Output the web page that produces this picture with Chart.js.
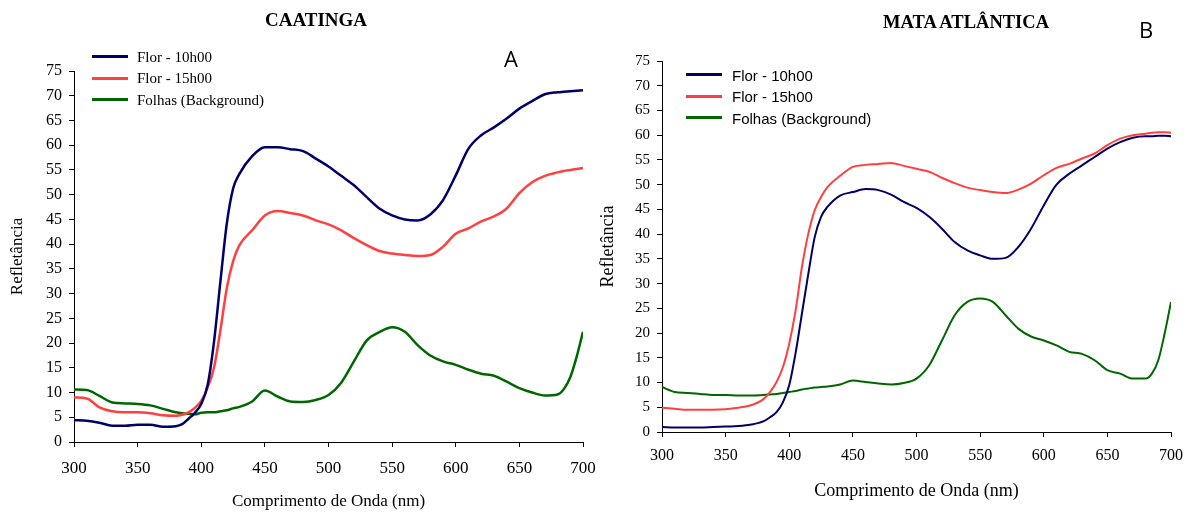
<!DOCTYPE html>
<html>
<head>
<meta charset="utf-8">
<script src="https://cdn.jsdelivr.net/npm/chart.js@4.4.1/dist/chart.umd.min.js"></script>
<style>
  html, body { margin: 0; padding: 0; background: #fff; }
  #page { position: relative; width: 1192px; height: 512px; overflow: hidden; }
  .box { position: absolute; top: 0; height: 512px; }
  .lbl { position: absolute; transform: translate(-50%, -50%); white-space: nowrap; color: #000; }
  .title { font-family: "Liberation Serif", serif; font-weight: bold; }
  .letter { font: 22px "Open Sans", "Liberation Sans", sans-serif; }
  .legend { position: absolute; }
  .legend .row { position: relative; height: 21.5px; }
  .legend .mark { position: absolute; left: 0; top: 50%; width: 36px; height: 3px; margin-top: -1.5px; }
  .legend .txt { position: absolute; top: 50%; transform: translateY(-50%); white-space: nowrap; color: #000; }
</style>
</head>
<body>
<div id="page">
  <div class="box" style="left:0; width:610px"><canvas id="chartA" width="610" height="512"></canvas></div>
  <div class="box" style="left:596px; width:596px"><canvas id="chartB" width="596" height="512"></canvas></div>

  <div class="lbl title" style="left:316px; top:20px; font-size:19px">CAATINGA</div>
  <div class="lbl title" style="left:966px; top:22px; font-size:18.5px">MATA ATLÂNTICA</div>
  <div class="lbl letter" style="left:511px; top:58px">A</div>
  <div class="lbl letter" style="left:1146px; top:29px">B</div>

  <div class="legend" id="legendA" style="left:92px; top:46px; font: 15px 'Liberation Serif', serif"></div>
  <div class="legend" id="legendB" style="left:686px; top:64px; font: 15px 'Liberation Sans', Arial, sans-serif"></div>
</div>

<script>
// wavelengths (nm), shared by every series
const waves = [300, 310, 320, 330, 340, 350, 360, 370, 380, 385, 390, 395, 400, 405, 410, 415, 420, 425, 430,
  440, 450, 460, 470, 480, 490, 500, 510, 520, 530, 540, 550, 560, 570, 580, 590, 600, 610, 620, 630, 640,
  650, 660, 670, 680, 685, 690, 695, 700];

const seriesLabels = ['Flor - 10h00', 'Flor - 15h00', 'Folhas (Background)'];
const seriesColors = ['#000066', '#ff4040', '#006600'];

// Caatinga
const caatFlor10 = [4.4, 4.3, 3.9, 3.3, 3.3, 3.5, 3.5, 3.1, 3.2, 3.6, 4.7, 5.9, 7.7, 11.5, 20.2, 32.3, 44, 51.2, 54.2,
  57.8, 59.6, 59.6, 59.2, 58.8, 57.3, 55.7, 53.8, 51.9, 49.5, 47.2, 45.8, 45.0, 44.8, 46.0, 48.9, 53.9, 59.3, 62, 63.6, 65.4,
  67.4, 68.9, 70.3, 70.7, 70.8, 70.9, 71.0, 71.1];
const caatFlor15 = [9.0, 8.8, 7.0, 6.2, 6.0, 6.0, 5.8, 5.4, 5.3, 5.5, 6.0, 6.9, 8.3, 11, 15, 22.5, 31, 36.5, 39.8,
  42.8, 45.8, 46.7, 46.3, 45.8, 44.8, 44.0, 42.8, 41.2, 39.8, 38.6, 38.1, 37.8, 37.6, 37.8, 39.5, 42.1, 43.2, 44.6, 45.6, 47.2,
  50.3, 52.5, 53.8, 54.5, 54.8, 55.0, 55.2, 55.4];
const caatFolhas = [10.6, 10.5, 9.3, 8.0, 7.8, 7.7, 7.4, 6.7, 6.0, 5.8, 5.7, 5.6, 5.9, 6.0, 6.0, 6.2, 6.4, 6.8, 7.1,
  8.2, 10.4, 9.2, 8.2, 8.1, 8.5, 9.5, 12.0, 16.3, 20.5, 22.2, 23.2, 22.3, 19.6, 17.5, 16.3, 15.6, 14.6, 13.8, 13.4, 12.2,
  10.9, 10.0, 9.4, 9.6, 10.7, 13.1, 17.2, 22.3];

// Mata Atlantica
const mataFlor10 = [1.0, 0.9, 0.9, 0.9, 1.0, 1.1, 1.2, 1.5, 2.2, 3.0, 4.0, 6.0, 9.5, 16, 24, 32, 39.4, 43.5, 45.5,
  47.8, 48.5, 49.1, 48.9, 48.0, 46.5, 45.3, 43.5, 41.1, 38.4, 36.7, 35.7, 35.0, 35.2, 37.4, 41.1, 45.8, 50.0, 52.2, 53.9, 55.6,
  57.3, 58.6, 59.5, 59.8, 59.8, 59.9, 59.9, 59.8];
const mataFlor15 = [4.9, 4.7, 4.5, 4.5, 4.5, 4.6, 4.9, 5.4, 6.7, 8.1, 10.1, 13.1, 17.9, 24.6, 33.4, 40.1, 44.8, 47.5, 49.5,
  51.8, 53.6, 54.0, 54.2, 54.4, 53.8, 53.2, 52.6, 51.4, 50.3, 49.4, 48.9, 48.5, 48.3, 49.0, 50.2, 51.9, 53.4, 54.2, 55.3, 56.3,
  58.0, 59.3, 60.0, 60.3, 60.5, 60.6, 60.6, 60.5];
const mataFolhas = [9.1, 8.1, 7.9, 7.7, 7.5, 7.5, 7.4, 7.4, 7.5, 7.6, 7.7, 7.9, 8.1, 8.3, 8.6, 8.8, 9.0, 9.1, 9.2,
  9.6, 10.4, 10.1, 9.8, 9.6, 9.9, 10.8, 13.5, 18.5, 23.6, 26.3, 27.0, 26.3, 23.6, 20.9, 19.3, 18.5, 17.5, 16.2, 15.8, 14.5,
  12.5, 11.8, 10.8, 10.8, 11.8, 14.5, 19.9, 26.3];

const xTicks = [300, 350, 400, 450, 500, 550, 600, 650, 700];
const yTicks = [0, 5, 10, 15, 20, 25, 30, 35, 40, 45, 50, 55, 60, 65, 70, 75];

function toPoints(vals) {
  return waves.map((w, i) => ({ x: w, y: vals[i] }));
}

function buildLegend(id, textLeft) {
  const el = document.getElementById(id);
  el.innerHTML = seriesLabels.map((l, i) =>
    `<div class="row"><span class="mark" style="background:${seriesColors[i]}"></span><span class="txt" style="left:${textLeft}px">${l}</span></div>`
  ).join('');
}

function makeChart(canvasId, series, cfg) {
  const ctx = document.getElementById(canvasId).getContext('2d');
  const titleFont = { family: 'Liberation Serif', size: cfg.titleSize };
  return new Chart(ctx, {
    type: 'line',
    data: {
      datasets: series.map((vals, i) => ({
        label: seriesLabels[i],
        data: toPoints(vals),
        borderColor: seriesColors[i],
        borderWidth: cfg.lineWidth,
        pointRadius: 0,
        fill: false,
        cubicInterpolationMode: 'monotone'
      }))
    },
    options: {
      responsive: false,
      animation: false,
      layout: { padding: cfg.padding },
      plugins: { legend: { display: false }, tooltip: { enabled: false } },
      scales: {
        x: {
          type: 'linear', min: 300, max: 700,
          afterBuildTicks: s => { s.ticks = xTicks.map(v => ({ value: v })); },
          afterFit: s => { s.height = cfg.xHeight; },
          grid: { drawOnChartArea: false, drawTicks: true, tickLength: 5, color: '#000' },
          border: { color: '#000', width: 1 },
          ticks: { color: '#000', font: { family: 'Liberation Serif', size: cfg.xTickSize }, padding: cfg.xTickPad, maxRotation: 0, autoSkip: false },
          title: { display: true, text: 'Comprimento de Onda (nm)', color: '#000', font: titleFont, padding: { top: 0, bottom: cfg.xTitlePad } }
        },
        y: {
          min: 0, max: 75,
          afterBuildTicks: s => { s.ticks = yTicks.map(v => ({ value: v })); },
          afterFit: s => { s.width = cfg.yWidth; },
          grid: { drawOnChartArea: false, drawTicks: true, tickLength: 5, color: '#000' },
          border: { color: '#000', width: 1 },
          ticks: { color: '#000', font: { family: 'Liberation Serif', size: cfg.yTickSize }, padding: 7, autoSkip: false },
          title: { display: true, text: 'Refletância', color: '#000', font: titleFont, padding: { top: cfg.yTitlePad, bottom: 0 } }
        }
      }
    }
  });
}

buildLegend('legendA', 45);
buildLegend('legendB', 46);

makeChart('chartA', [caatFlor10, caatFlor15, caatFolhas], {
  padding: { left: 0, right: 27, top: 71, bottom: 0 },
  yWidth: 74, xHeight: 70, xTickSize: 17, yTickSize: 16, xTickPad: 11, titleSize: 17,
  xTitlePad: 0, yTitlePad: 7, lineWidth: 2.5
});

makeChart('chartB', [mataFlor10, mataFlor15, mataFolhas], {
  padding: { left: 0, right: 21, top: 61, bottom: 0 },
  yWidth: 66, xHeight: 80, xTickSize: 16, yTickSize: 15, xTickPad: 9, titleSize: 18,
  xTitlePad: 10, yTitlePad: 1, lineWidth: 2
});
</script>
</body>
</html>
